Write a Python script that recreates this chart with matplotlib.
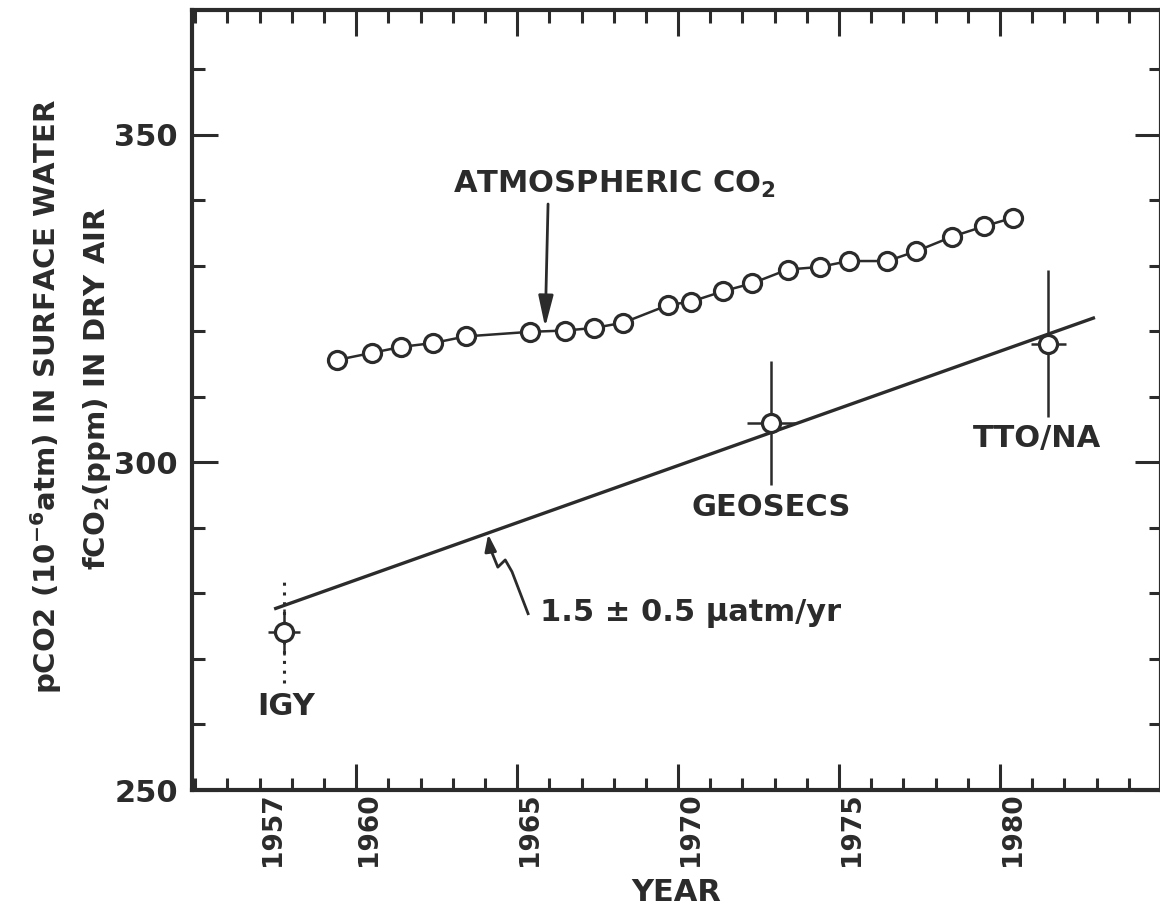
import matplotlib.pyplot as plt

INK = "#2b2b2b"

plt.rcParams["font.family"] = ["DejaVu Sans"]
plt.rcParams["font.weight"] = "bold"
plt.rcParams["mathtext.fontset"] = "dejavusans"

# Mauna Loa annual means, fCO2 in dry air (ppm)
atm_years = [1959.4, 1960.5, 1961.4, 1962.4, 1963.4, 1965.4, 1966.5, 1967.4,
             1968.3, 1969.7, 1970.4, 1971.4, 1972.3, 1973.4, 1974.4, 1975.3,
             1976.5, 1977.4, 1978.5, 1979.5, 1980.4]
atm_co2 = [315.6, 316.7, 317.6, 318.2, 319.2, 319.9, 320.1, 320.5,
           321.3, 324.0, 324.5, 326.1, 327.3, 329.4, 329.8, 330.7,
           330.7, 332.2, 334.4, 336.0, 337.3]

# surface-water pCO2 surveys (uatm)
survey_names = ["IGY", "GEOSECS", "TTO/NA"]
survey_years = [1957.75, 1972.9, 1981.5]
survey_pco2 = [274.1, 306.0, 318.1]
survey_yerr = [3.5, 9.5, 11.2]
survey_xerr = [0.5, 0.75, 0.55]
igy_full_range = [266.3, 282.6]

# fitted trend through the surveys
fit_years = [1957.5, 1982.9]
fit_pco2 = [277.7, 322.0]

year_ticks = [1957, 1960, 1965, 1970, 1975, 1980]
value_ticks = [250, 300, 350]

fig = plt.figure(figsize=(11.6, 9.06), dpi=100)
ax = fig.add_axes([192 / 1160, 116 / 906, 969 / 1160, 780 / 906])
ax.set_xlim(1954.9, 1985)
ax.set_ylim(250, 369)

for side in ax.spines.values():
    side.set_linewidth(3.0)
    side.set_color(INK)

ax.set_xticks(year_ticks, [str(y) for y in year_ticks], rotation=90, ha="left")
ax.set_xticks(range(1955, 1986), minor=True)
ax.set_yticks(value_ticks, [str(v) for v in value_ticks])
ax.set_yticks(range(250, 370, 10), minor=True)
ax.tick_params(which="both", direction="in", top=True, right=True,
               color=INK, width=2.2, labelcolor=INK)
ax.tick_params(which="major", length=19)
ax.tick_params(which="minor", length=9)
ax.tick_params(axis="y", pad=10, labelsize=22)
ax.tick_params(axis="x", pad=2, labelsize=19)
# 1957 carries a label but only a short tick
first = ax.xaxis.get_major_ticks()[0]
first.tick1line.set_markersize(9)
first.tick2line.set_markersize(9)

# atmospheric record
ax.plot(atm_years, atm_co2, "-o", color=INK, lw=1.8, ms=13,
        mfc="white", mec=INK, mew=2.3, zorder=4)

# trend line
ax.plot(fit_years, fit_pco2, color=INK, lw=2.4, zorder=2)

# IGY: dotted full range behind the solid error bar
ax.vlines(survey_years[0], igy_full_range[0], igy_full_range[1],
          color=INK, lw=2.2, linestyles=(0, (1, 2.2)), zorder=3)
ax.errorbar(survey_years, survey_pco2, yerr=survey_yerr, xerr=survey_xerr,
            fmt="o", color=INK, ms=13, mfc="white", mec=INK, mew=2.3,
            elinewidth=1.8, capsize=0, zorder=5)

text_kw = dict(color=INK, fontsize=22, fontweight="bold")
ax.text(1957.83, 262.8, survey_names[0], ha="center", va="center", **text_kw)
ax.text(1972.89, 293.05, survey_names[1], ha="center", va="center", **text_kw)
ax.text(1981.15, 303.7, survey_names[2], ha="center", va="center", **text_kw)

ax.text(1963.01, 341.1, r"ATMOSPHERIC CO$_\mathbf{2}$", ha="left",
        va="baseline", **text_kw)
ax.annotate("", xy=(1965.87, 320.6), xytext=(1965.96, 339.4),
            arrowprops=dict(arrowstyle="-|>,head_length=1.9,head_width=0.45",
                            color=INK, lw=2.0, shrinkA=0, shrinkB=0))

ax.text(1965.71, 276.9, "1.5 \u00b1 0.5 \u03bcatm/yr", ha="left", va="center",
        **text_kw)
squiggle_x = [1965.34, 1964.84, 1964.63, 1964.40, 1964.16]
squiggle_y = [276.9, 283.3, 285.1, 284.0, 286.9]
ax.plot(squiggle_x, squiggle_y, color=INK, lw=2.0)
ax.annotate("", xy=(1964.10, 289.0), xytext=(squiggle_x[-1], squiggle_y[-1]),
            arrowprops=dict(arrowstyle="-|>,head_length=1.0,head_width=0.35",
                            color=INK, lw=2.0, shrinkA=0, shrinkB=0))

ax.set_xlabel("YEAR", fontsize=22, fontweight="bold", color=INK)
ax.xaxis.label.set_va("center")
ax.xaxis.set_label_coords(0.5, -0.131)

ylab_kw = dict(color=INK, fontsize=21, fontweight="bold", rotation=90,
               ha="center", va="center")
fig.text(46 / 1160, 1 - 396 / 906,
         r"pCO2 (10$^{\mathbf{-6}}$atm) IN SURFACE WATER", **ylab_kw)
fig.text(97 / 1160, 1 - 388 / 906, r"fCO$_\mathbf{2}$(ppm) IN DRY AIR",
         **ylab_kw)

fig.savefig("out.png", dpi=100)
